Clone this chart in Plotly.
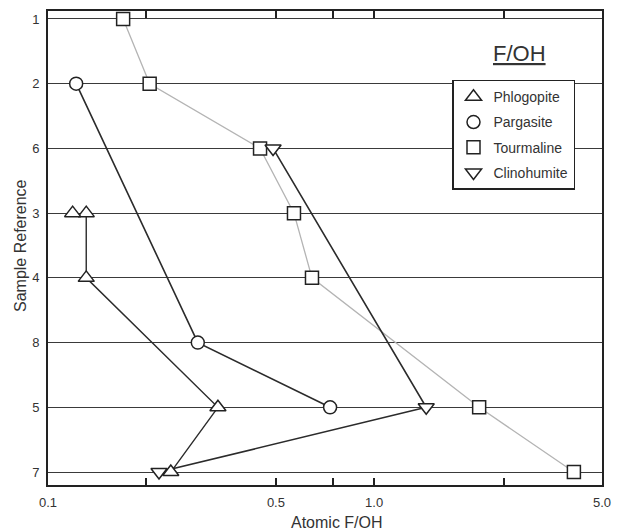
import plotly.graph_objects as go

# Sample rows, top to bottom
samples = ["1", "2", "6", "3", "4", "8", "5", "7"]

# Atomic F/OH per mineral (sample, value)
tourmaline_s = ["1", "2", "6", "3", "4", "5", "7"]
tourmaline_v = [0.170, 0.205, 0.447, 0.568, 0.645, 2.10, 4.10]

pargasite_s = ["2", "8", "5"]
pargasite_v = [0.122, 0.288, 0.733]

phlogopite_s = ["3", "4", "5", "7"]
phlogopite_v = [0.131, 0.131, 0.332, 0.238]
phlogopite_extra_s = ["3"]
phlogopite_extra_v = [0.119]

clinohumite_s = ["6", "5", "7"]
clinohumite_v = [0.490, 1.445, 0.219]

x_tickvals = [0.1, 0.2, 0.5, 0.75, 1.0, 2.5, 5.0]
x_ticktext = ["0.1", "", "0.5", "", "1.0", "", "5.0"]

FONT = "Liberation Sans, Arial, Helvetica, sans-serif"
INK = "#222222"
TEXT = "#333333"
DARK_LINE = "#2b2b2b"
GREY_LINE = "#b4b4b4"

# plot area in pixels (for placing annotations)
L, R, T, B = 48, 602, 9, 485
PW, PH = R - L, B - T

SIZES = {"square": 13, "circle": 13, "triangle-up": 14, "triangle-down": 14}


def marker(symbol):
    return dict(symbol=symbol, size=SIZES[symbol], color="white",
                line=dict(color=INK, width=1.5))


fig = go.Figure()

# Data traces (lines + open markers)
fig.add_trace(go.Scatter(x=tourmaline_v, y=tourmaline_s, mode="lines+markers",
                         line=dict(color=GREY_LINE, width=1.3),
                         marker=marker("square"), showlegend=False))
fig.add_trace(go.Scatter(x=pargasite_v, y=pargasite_s, mode="lines+markers",
                         line=dict(color=DARK_LINE, width=1.6),
                         marker=marker("circle"), showlegend=False))
fig.add_trace(go.Scatter(x=clinohumite_v, y=clinohumite_s, mode="lines+markers",
                         line=dict(color=DARK_LINE, width=1.6),
                         marker=marker("triangle-down"), showlegend=False))
fig.add_trace(go.Scatter(x=phlogopite_v, y=phlogopite_s, mode="lines+markers",
                         line=dict(color=DARK_LINE, width=1.4),
                         marker=marker("triangle-up"), showlegend=False))
fig.add_trace(go.Scatter(x=phlogopite_extra_v, y=phlogopite_extra_s, mode="markers",
                         marker=marker("triangle-up"), showlegend=False))

# Legend entries: symbols only
legend_items = [("Phlogopite", "triangle-up"), ("Pargasite", "circle"),
                ("Tourmaline", "square"), ("Clinohumite", "triangle-down")]
for name, sym in legend_items:
    fig.add_trace(go.Scatter(x=[None], y=[None], mode="markers", name=name,
                             legendgroup=name, marker=marker(sym)))

fig.update_xaxes(type="log", range=[-1, 0.69897],
                 tickvals=x_tickvals, ticktext=x_ticktext,
                 ticks="inside", ticklen=7, tickwidth=1.5, tickcolor=INK,
                 ticklabelstandoff=4,
                 showline=True, linecolor=INK, linewidth=2, mirror="ticks",
                 showgrid=False, zeroline=False,
                 tickfont=dict(family=FONT, size=13, color=TEXT))

fig.update_yaxes(type="category", categoryorder="array", categoryarray=samples,
                 range=[7.2, -0.123],
                 showline=True, linecolor=INK, linewidth=2, mirror=True,
                 showgrid=True, gridcolor="#3a3a3a", gridwidth=1,
                 ticks="", ticklabelstandoff=4,
                 tickfont=dict(family=FONT, size=13, color=TEXT))

# Axis titles
fig.add_annotation(text="Atomic F/OH", xref="paper", yref="paper",
                   x=(337 - L) / PW, y=(B - 523) / PH,
                   showarrow=False, xanchor="center", yanchor="middle",
                   font=dict(family=FONT, size=16, color=TEXT))
fig.add_annotation(text="Sample Reference", xref="paper", yref="paper",
                   x=(20 - L) / PW, y=(B - 245) / PH, textangle=-90,
                   showarrow=False, xanchor="center", yanchor="middle",
                   font=dict(family=FONT, size=16, color=TEXT))

# Chart heading
fig.add_annotation(text="<u>F/OH</u>", xref="paper", yref="paper",
                   x=(519 - L) / PW, y=(B - 52) / PH,
                   showarrow=False, xanchor="center", yanchor="middle",
                   font=dict(family=FONT, size=22, color=TEXT))

fig.update_layout(
    width=623, height=530,
    margin=dict(l=L, r=623 - R, t=T, b=530 - B),
    plot_bgcolor="white", paper_bgcolor="white",
    legend=dict(x=(452 - L) / PW, y=(B - 78) / PH,
                xanchor="left", yanchor="top",
                bgcolor="white", bordercolor=INK, borderwidth=1.5,
                tracegroupgap=4, traceorder="grouped",
                font=dict(family=FONT, size=14, color=TEXT)),
)

fig.write_html("out.html")
